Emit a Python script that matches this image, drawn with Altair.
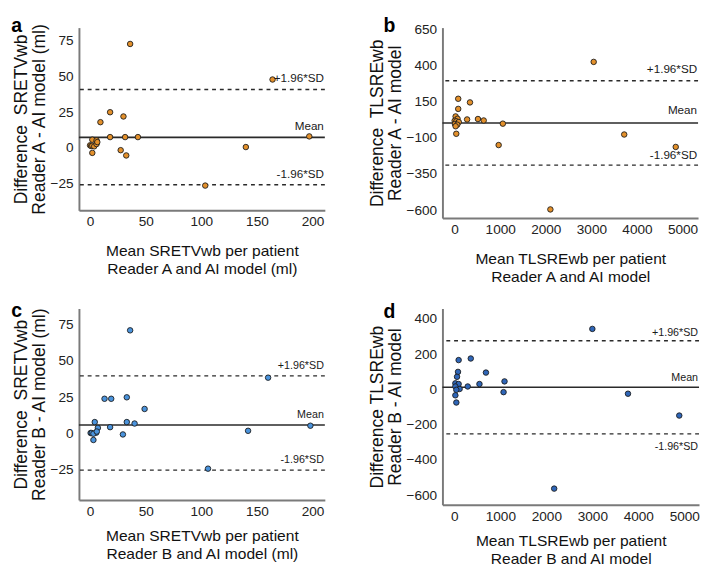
import altair as alt
import pandas as pd

FONT = "Liberation Sans"

# ---------------- Panel a : SRETVwb, Reader A vs AI ----------------
a_mean = [36, 164, 18, 30, 9.3, 18, 31.5, 43, 197, 140, 27.5, 32.5, 103.5,
          0, 1, 2, 2, 3.7, 5.8, 5.8, 6.5, 2]
a_diff = [73, 48, 25, 22, 18, 7.5, 7.5, 7.5, 8, 0.5, -1.7, -5.4, -26.6,
          1.7, 1.2, 1.5, 5.7, 1, 2.6, 5.2, 4, -3.6]
a_lines = [7.3, 41, -26]   # mean, +1.96SD, -1.96SD

# ---------------- Panel b : TLSREwb, Reader A vs AI ----------------
b_mean = [3050, 3720, 4850, 2100, 965, 1057, 336, 78, 78, 273, 511, 637,
          35, 21, 63, 0, 35, 90, 6, 57, 21]
b_diff = [425, -77, -163, -595, -150, -2, 145, 170, 100, 27, 30, 20,
          -72, 48, 32, 18, 14, 9, -4, -9, -20]
b_lines = [3, 295, -289]

# ---------------- Panel c : SRETVwb, Reader B vs AI ----------------
c_mean = [36, 160, 13, 19, 33, 49, 33, 40, 18, 29.5, 142, 198, 106,
          4.2, 7, 0.5, 1.5, 5.5, 3, 3, 6]
c_diff = [71, 38.5, 24, 24, 25, 17, 8, 7, 4.5, -0.5, 2, 5.5, -24,
          8, 4, 0.5, 0.5, 0.7, 0, -4.3, 1.5]
c_lines = [6, 39.7, -25]

# ---------------- Panel d : TLSREwb, Reader B vs AI ----------------
d_mean = [3000, 3775, 4890, 2170, 356, 92, 78, 57, 686, 21, 92, 21, 290,
          545, 1090, 113, 42, 21, 42, 1069]
d_diff = [344, -24, -148, -563, 176, 167, 100, 72, 96, 35, 31, 17, 17,
          31, 46, 3, -2, -33, -74, -15]
d_lines = [13, 277, -252]

line_labels = ["Mean", "+1.96*SD", "-1.96*SD"]


def panel(xs, ys, color, lines, xdom, ydom, xticks, yticks, xtitle, ytitle,
          letter, W, H, offs, letter_dx, tsize, xtpad):
    df = pd.DataFrame({"x": xs, "y": ys})
    xsc = alt.Scale(domain=xdom, nice=False, zero=False)
    ysc = alt.Scale(domain=ydom, nice=False, zero=False)
    yenc = alt.Y("y:Q", scale=ysc,
                 axis=alt.Axis(values=yticks, title=ytitle))

    layers = []
    for i, v in enumerate(lines):
        ldf = pd.DataFrame({"y": [v]})
        if i == 0:
            r = alt.Chart(ldf).mark_rule(color="#2a2a2a", strokeWidth=1.6)
        else:
            r = alt.Chart(ldf).mark_rule(color="#2a2a2a", strokeWidth=1.4,
                                         strokeDash=[4, 4])
        layers.append(r.encode(y=yenc))

    pts = alt.Chart(df).mark_circle(
        size=32, fill=color, stroke="#1a1a1a", strokeWidth=0.9, opacity=1
    ).encode(
        x=alt.X("x:Q", scale=xsc,
                axis=alt.Axis(values=xticks, title=xtitle, format="d",
                              titlePadding=xtpad)),
        y=yenc,
    )
    layers.append(pts)

    for i, v in enumerate(lines):
        tdf = pd.DataFrame({"y": [v], "t": [line_labels[i]]})
        t = alt.Chart(tdf).mark_text(
            align="right", baseline="middle", font=FONT, fontSize=tsize,
            color="#1a1a1a", dy=offs[i]
        ).encode(x=alt.value(W - 1), y=yenc, text="t:N")
        layers.append(t)

    return alt.layer(*layers).properties(
        width=W, height=H,
        title=alt.TitleParams(letter, anchor="start", frame="bounds",
                              fontSize=20, fontWeight="bold", font=FONT,
                              color="black", dx=letter_dx, offset=-14),
    )


pa = panel(a_mean, a_diff, "#E3902B", a_lines, [-10, 211], [-44, 84.5],
           [0, 50, 100, 150, 200], [-25, 0, 25, 50, 75],
           ["Mean SRETVwb per patient", "Reader A and AI model (ml)"],
           ["Difference\u00a0 SRETVwb", "Reader A - AI model (ml)"],
           "a", 253, 188, [-12, -12, -11], -2, 12, 15)

pb = panel(b_mean, b_diff, "#E3902B", b_lines, [-268, 5340], [-655, 662],
           [0, 1000, 2000, 3000, 4000, 5000],
           [-600, -350, -100, 150, 400, 650],
           ["Mean TLSREwb per patient", "Reader A and AI model"],
           ["Difference\u00a0 TLSREwb", "Reader A - AI model"],
           "b", 263, 196, [-13, -12, -10], 15, 12, 15)

pc = panel(c_mean, c_diff, "#4A93DC", c_lines, [-10, 211], [-45.5, 86],
           [0, 50, 100, 150, 200], [-25, 0, 25, 50, 75],
           ["Mean SRETVwb per patient", "Reader B and AI model (ml)"],
           ["Difference\u00a0 SRETVwb", "Reader B - AI model (ml)"],
           "c", 253, 197, [-10, -10, -10], -2, 11, 10)

pd_ = panel(d_mean, d_diff, "#2F66B8", d_lines, [-260, 5320], [-655, 460],
            [0, 1000, 2000, 3000, 4000, 5000],
            [-600, -400, -200, 0, 200, 400],
            ["Mean TLSREwb per patient", "Reader B and AI model"],
            ["Difference TLSREwb", "Reader B - AI model"],
            "d", 264, 202, [-9, -8, 14], 15, 11, 10)

chart = alt.vconcat(
    alt.hconcat(pa, pb, spacing=44),
    alt.hconcat(pc, pd_, spacing=44),
    spacing=17,
).properties(
    padding={"left": 3, "top": 0, "right": 0, "bottom": 0}
).configure_view(
    strokeWidth=0
).configure_axis(
    domainColor="#7a7a7a", domainWidth=2, ticks=False, grid=False,
    labelFont=FONT, labelFontSize=14, labelColor="#222222", labelPadding=6,
    titleFont=FONT, titleFontWeight="normal", titleColor="#111111",
).configure_axisX(
    labelPadding=5, titleFontSize=16, titleLineHeight=18
).configure_axisY(
    titlePadding=2, titleFontSize=18, titleLineHeight=18
)

chart.save("out.html", embed_options={"renderer": "svg", "actions": False})
